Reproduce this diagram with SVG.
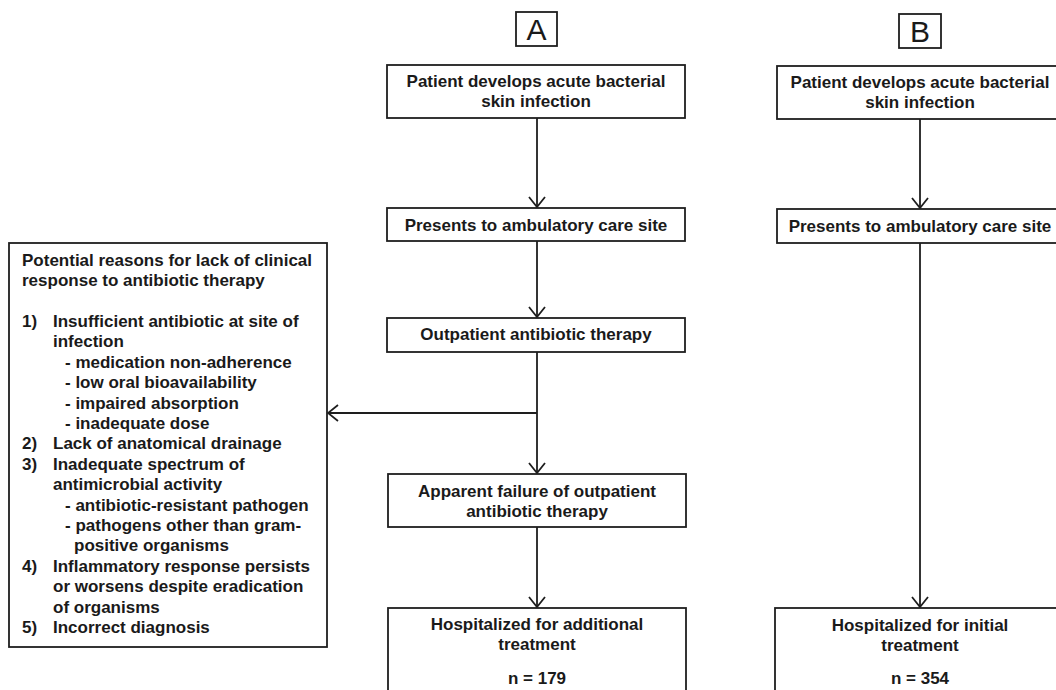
<svg xmlns="http://www.w3.org/2000/svg" width="1056" height="690" viewBox="0 0 1056 690">
<defs>
<style>
.box{fill:#fff;stroke:#1e1e1e;stroke-width:1.8}
.t{font-family:"Liberation Sans",Arial,sans-serif;font-weight:bold;font-size:17px;fill:#1a1a1a}
.c{text-anchor:middle}
.lbl{font-family:"Liberation Sans",Arial,sans-serif;font-size:30px;fill:#1a1a1a;text-anchor:middle}
.ln{fill:none;stroke:#1e1e1e;stroke-width:1.8}
</style>
<marker id="ah" viewBox="0 0 12 18" refX="11" refY="9" markerWidth="12" markerHeight="18" markerUnits="userSpaceOnUse" orient="auto">
<path d="M1,1 L11,9 L1,17" fill="none" stroke="#1e1e1e" stroke-width="1.8"/>
</marker>
</defs>
<rect width="1056" height="690" fill="#fff"/>

<g id="label-A"><rect class="box" x="516" y="12" width="41" height="34"/><text class="lbl" x="536.5" y="40">A</text></g>
<g id="label-B"><rect class="box" x="899" y="14" width="42" height="34"/><text class="lbl" x="920" y="42">B</text></g>

<g id="A1"><rect class="box" x="387" y="65" width="298" height="53"/>
<text class="t c" x="536" y="87">Patient develops acute bacterial</text>
<text class="t c" x="536" y="107">skin infection</text></g>
<g id="A2"><rect class="box" x="387" y="208" width="298" height="33"/>
<text class="t c" x="536" y="231">Presents to ambulatory care site</text></g>
<g id="A3"><rect class="box" x="387" y="318" width="298" height="34"/>
<text class="t c" x="536" y="340">Outpatient antibiotic therapy</text></g>
<g id="A4"><rect class="box" x="388" y="474" width="298" height="53"/>
<text class="t c" x="537" y="497">Apparent failure of outpatient</text>
<text class="t c" x="537" y="517">antibiotic therapy</text></g>
<g id="A5"><rect class="box" x="388" y="608" width="298" height="100"/>
<text class="t c" x="537" y="630">Hospitalized for additional</text>
<text class="t c" x="537" y="650">treatment</text>
<text class="t c" x="537" y="684">n = 179</text></g>

<g id="B1"><rect class="box" x="777" y="66" width="290" height="53"/>
<text class="t c" x="920" y="88">Patient develops acute bacterial</text>
<text class="t c" x="920" y="108">skin infection</text></g>
<g id="B2"><rect class="box" x="777" y="209" width="290" height="34"/>
<text class="t c" x="920" y="232">Presents to ambulatory care site</text></g>
<g id="B3"><rect class="box" x="775" y="608" width="292" height="100"/>
<text class="t c" x="920" y="631">Hospitalized for initial</text>
<text class="t c" x="920" y="651">treatment</text>
<text class="t c" x="920" y="684">n = 354</text></g>

<g id="reasons"><rect class="box" x="9" y="243" width="318" height="404"/>
<text class="t" x="22" y="266">Potential reasons for lack of clinical</text>
<text class="t" x="22" y="286">response to antibiotic therapy</text>
<text class="t" x="22" y="327">1)</text><text class="t" x="53" y="327">Insufficient antibiotic at site of</text>
<text class="t" x="53" y="347">infection</text>
<text class="t" x="65" y="368">- medication non-adherence</text>
<text class="t" x="65" y="388">- low oral bioavailability</text>
<text class="t" x="65" y="409">- impaired absorption</text>
<text class="t" x="65" y="429">- inadequate dose</text>
<text class="t" x="22" y="449">2)</text><text class="t" x="53" y="449">Lack of anatomical drainage</text>
<text class="t" x="22" y="470">3)</text><text class="t" x="53" y="470">Inadequate spectrum of</text>
<text class="t" x="53" y="490">antimicrobial activity</text>
<text class="t" x="65" y="511">- antibiotic-resistant pathogen</text>
<text class="t" x="65" y="531">- pathogens other than gram-</text>
<text class="t" x="74" y="551">positive organisms</text>
<text class="t" x="22" y="572">4)</text><text class="t" x="53" y="572">Inflammatory response persists</text>
<text class="t" x="53" y="592">or worsens despite eradication</text>
<text class="t" x="53" y="613">of organisms</text>
<text class="t" x="22" y="633">5)</text><text class="t" x="53" y="633">Incorrect diagnosis</text></g>

<g id="connectors">
<line class="ln" x1="537" y1="118" x2="537" y2="207" marker-end="url(#ah)"/>
<line class="ln" x1="537" y1="241" x2="537" y2="317" marker-end="url(#ah)"/>
<line class="ln" x1="537" y1="352" x2="537" y2="473" marker-end="url(#ah)"/>
<line class="ln" x1="537" y1="413" x2="328" y2="413" marker-end="url(#ah)"/>
<line class="ln" x1="537" y1="527" x2="537" y2="607" marker-end="url(#ah)"/>
<line class="ln" x1="920" y1="119" x2="920" y2="208" marker-end="url(#ah)"/>
<line class="ln" x1="920" y1="243" x2="920" y2="607" marker-end="url(#ah)"/>
</g>
</svg>
